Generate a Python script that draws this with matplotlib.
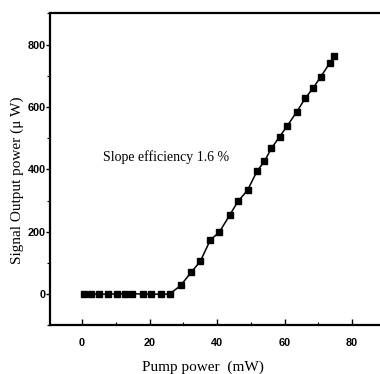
import matplotlib
matplotlib.use('Agg')
import matplotlib.pyplot as plt
from matplotlib.ticker import MultipleLocator

# pump power (mW) and signal output (uW)
pump = [0.7, 2.6, 5.1, 7.6, 10.2, 12.6, 14.8, 18.0, 20.4, 23.3, 25.9,
        29.2, 32.3, 35.0, 38.0, 40.6, 43.7, 46.2, 49.0, 51.8, 54.0,
        56.1, 58.5, 60.8, 63.6, 66.1, 68.5, 70.7, 73.3, 74.7]
signal = [0, 0, 0, 0, 1, 2, 2, 0, 0, 0, 0,
          28, 70, 105, 174, 198, 253, 298, 333, 394, 426,
          468, 505, 540, 585, 628, 662, 697, 740, 764]

serif = ['Liberation Serif', 'DejaVu Serif']
plt.rcParams['font.family'] = ['Liberation Sans', 'DejaVu Sans']

fig = plt.figure(figsize=(3.8, 3.74), dpi=100)
ax = fig.add_axes([0.1316, 0.130, 0.884, 0.834])

ax.plot(pump, signal, color='black', lw=1.1, marker='s', ms=4.2,
        markerfacecolor='black', markeredgecolor='black')

ax.set_xlim(-9.5, 90)
ax.set_ylim(-100, 900)

ax.xaxis.set_major_locator(MultipleLocator(20))
ax.xaxis.set_minor_locator(MultipleLocator(10))
ax.yaxis.set_major_locator(MultipleLocator(200))
ax.yaxis.set_minor_locator(MultipleLocator(100))
ax.set_yticks([0, 200, 400, 600, 800])

ax.tick_params(axis='x', which='major', direction='in', length=4, width=1, pad=9)
ax.tick_params(axis='x', which='minor', direction='in', length=2, width=0.8)
ax.tick_params(axis='y', which='major', direction='out', length=3, width=1, pad=0)
ax.tick_params(axis='y', which='minor', direction='out', length=2, width=0.8)
ax.tick_params(labelsize=7.8)

for lab in ax.get_xticklabels() + ax.get_yticklabels():
    lab.set_fontweight('bold')

for s in ['left', 'bottom', 'top']:
    ax.spines[s].set_linewidth(1.6)
ax.spines['right'].set_visible(False)

ax.set_xlabel('Pump power  (mW)', family=serif, fontsize=11)
ax.xaxis.set_label_coords(0.455, -0.113)
ax.set_ylabel('Signal Output power (\u03bc W)', family=serif, fontsize=11)
ax.yaxis.set_label_coords(-0.077, 0.466)

ax.text(6.2, 438, 'Slope efficiency 1.6 %', family=serif, fontsize=10,
        ha='left', va='center')

fig.savefig('out.png', dpi=100)
